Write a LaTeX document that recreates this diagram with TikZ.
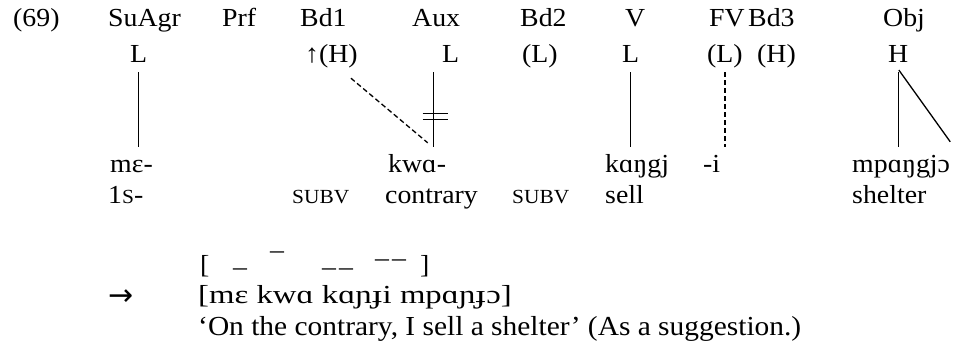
\documentclass[tikz,border=0pt]{standalone}
\usepackage{fontspec}
\setmainfont{Liberation Serif}[FakeStretch=1.07]
\newfontfamily\ipawide{Liberation Serif}[FakeStretch=1.26]
\newfontfamily\arrowfont{DejaVu Sans}
\newcommand\glosscaps[1]{{\fontsize{20pt}{24pt}\selectfont #1}}

\begin{document}
\begin{tikzpicture}[x=1pt,y=-1pt,
  every node/.style={anchor=base west,inner sep=0pt,font=\fontsize{26pt}{30pt}\selectfont},
  tier/.style={text height=18pt,text depth=6pt},
  assoc/.style={line width=1.3pt,shorten <=3pt,shorten >=7pt},
  dashedassoc/.style={assoc,dash pattern=on 5pt off 3pt}]
\useasboundingbox (0,0) rectangle (966,350);
\node (n69) at (13,27) {(69)};
\node (suagr) at (108,27) {SuAgr};
\node (prf) at (222,27) {Prf};
\node (bdone) at (300,27) {Bd1};
\node (aux) at (412,27) {Aux};
\node (bdtwo) at (520,27) {Bd2};
\node (verb) at (625,27) {V};
\node (fv) at (709,27) {FV};
\node (bdthree) at (748,27) {Bd3};
\node (obj) at (883,27) {Obj};
\node[tier] (suL) at (130,63) {L};
\node[tier] (bdoneH) at (305,63) {↑(H)};
\node[tier] (auxL) at (442,63) {L};
\node[tier] (bdtwoL) at (522,63) {(L)};
\node[tier] (verbL) at (622,63) {L};
\node[tier] (fvL) at (707,63) {(L)};
\node[tier] (bdthreeH) at (757,63) {(H)};
\node[tier] (objH) at (888,63) {H};
\node[tier] (me) at (110,172) {mɛ-};
\node[tier] (kwa) at (388,172) {kwɑ-};
\node[tier] (kangj) at (605,172) {kɑŋgj};
\node[tier] (fvi) at (703,172) {-i};
\node[tier] (mpangjo) at (852,172) {mpɑŋgjɔ};
\node (glone) at (108,203) {1\glosscaps{S}-};
\node (glsubvA) at (292,203) {\glosscaps{SUBV}};
\node (glcontrary) at (385,203) {contrary};
\node (glsubvB) at (512,203) {\glosscaps{SUBV}};
\node (glsell) at (605,203) {sell};
\node (glshelter) at (852,203) {shelter};
\node (bropen) at (200,273) {[};
\node (toneA) at (233,275) {–};
\node (toneB) at (270,258) {–};
\node (toneC) at (322,275) {–\hspace{3pt}–};
\node (toneD) at (375,266) {–\hspace{3pt}–};
\node (brclose) at (420,273) {]};
\node[font=\arrowfont\fontsize{30pt}{32pt}\selectfont] (derive) at (108,305) {→};
\node[font=\ipawide\fontsize{26pt}{30pt}\selectfont] (surface) at (198,303) {[mɛ kwɑ kɑɲɟi mpɑɲɟɔ]};
\node[font=\fontsize{27.5pt}{32pt}\selectfont] (transl) at (198,335) {‘On the contrary, I sell a shelter’ (As a suggestion.)};
\draw[assoc] (suL.south) -- (suL.south |- me.north);
\coordinate (auxfoot) at ([xshift=-17pt]auxL.south |- kwa.north);
\draw[assoc] ([xshift=-17pt]auxL.south) -- (auxfoot);
\draw[line width=1.3pt] ([xshift=-28pt,yshift=-44pt]auxL.south) -- ++(25,0);
\draw[line width=1.3pt] ([xshift=-28pt,yshift=-50pt]auxL.south) -- ++(25,0);
\draw[dashedassoc,shorten <=0pt,shorten >=0pt] ([xshift=-7pt,yshift=-9pt]bdoneH.south east) -- ([xshift=-6pt,yshift=11pt]auxfoot);
\draw[assoc] (verbL.south) -- (verbL.south |- kangj.north);
\draw[dashedassoc] (fvL.south) -- (fvL.south |- fvi.north);
\draw[assoc] (objH.south) -- (objH.south |- mpangjo.north);
\draw[line width=1.3pt,shorten <=1pt] (objH.south) -- ([yshift=12pt]mpangjo.north east);
\end{tikzpicture}
\end{document}
